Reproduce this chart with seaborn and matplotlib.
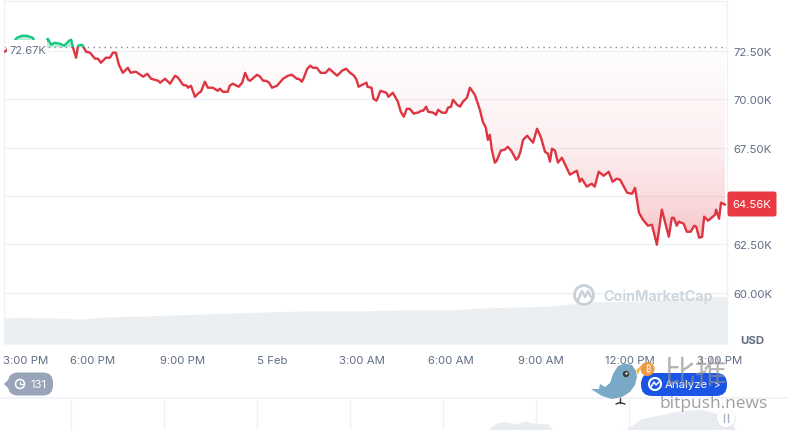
import numpy as np
import pandas as pd
import matplotlib
matplotlib.use("Agg")
import matplotlib.pyplot as plt
import seaborn as sns
from matplotlib.patches import Circle, FancyBboxPatch, Polygon, Rectangle
from matplotlib.path import Path
from matplotlib.transforms import ScaledTranslation
from matplotlib.colors import LinearSegmentedColormap

# minutes since 3:00 PM, price in thousands of USD
minutes = [3, 13, 27, 37, 47, 59, 65, 77, 89, 96,
           102, 114, 122, 132, 136, 140, 146, 150, 158, 162,
           166, 174, 184, 190, 196, 206, 214, 220, 226, 232,
           240, 250, 256, 266, 281, 289, 297, 311, 315, 325,
           335, 345, 351, 361, 369, 371, 377, 385, 393, 397,
           405, 411, 421, 431, 435, 441, 451, 455, 461, 473,
           480, 486, 492, 496, 510, 516, 522, 528, 534, 540,
           550, 562, 572, 580, 590, 594, 600, 604, 611, 617,
           622, 630, 638, 648, 655, 671, 681, 689, 697, 705,
           710, 714, 726, 730, 732, 740, 744, 750, 752, 758,
           770, 774, 783, 793, 799, 805, 811, 817, 825, 831,
           834, 840, 844, 850, 854, 864, 870, 874, 882, 890,
           894, 900, 904, 912, 918, 924, 932, 938, 948, 958,
           964, 970, 974, 978, 982, 988, 992, 1000, 1008, 1014,
           1021, 1031, 1035, 1039, 1045, 1053, 1065, 1073, 1081, 1089,
           1095, 1099, 1103, 1109, 1115, 1123, 1139, 1153, 1159, 1163,
           1173, 1183, 1189, 1197, 1207, 1217, 1225, 1233, 1240, 1254,
           1264, 1270, 1278, 1286, 1296, 1304, 1314, 1324, 1338, 1344,
           1348, 1354, 1358, 1368, 1374, 1382, 1389, 1393, 1399, 1405,
           1409, 1417, 1431, 1433, 1439, 1443, 1451]
price = [72.45, 72.70, 73.17, 73.27, 73.27, 73.17, 72.76, 72.55, 73.12, 72.81,
         72.91, 72.86, 72.76, 73.02, 73.07, 72.65, 72.14, 72.76, 72.81, 72.65,
         72.45, 72.40, 72.09, 72.09, 71.88, 72.14, 72.14, 72.40, 72.40, 71.78,
         71.36, 71.62, 71.36, 71.42, 71.16, 71.31, 71.05, 70.95, 70.85, 71.05,
         70.80, 71.21, 71.11, 70.74, 70.69, 70.59, 70.69, 70.12, 70.33, 70.38,
         70.90, 70.59, 70.59, 70.43, 70.54, 70.38, 70.38, 70.69, 70.80, 70.64,
         70.85, 71.36, 71.00, 70.95, 71.26, 71.16, 70.95, 70.95, 70.85, 70.59,
         70.69, 71.05, 71.21, 71.26, 71.05, 71.05, 70.90, 71.11, 71.57, 71.73,
         71.62, 71.62, 71.36, 71.36, 71.57, 71.21, 71.47, 71.57, 71.36, 71.21,
         71.00, 70.64, 70.80, 70.85, 70.64, 70.59, 70.02, 69.92, 70.02, 70.43,
         70.33, 70.12, 70.33, 69.87, 69.35, 69.09, 69.50, 69.50, 69.25, 69.30,
         69.30, 69.40, 69.40, 69.61, 69.35, 69.30, 69.19, 69.45, 69.30, 69.30,
         69.56, 69.61, 69.97, 69.71, 69.61, 69.87, 70.07, 70.59, 70.22, 69.45,
         68.83, 68.52, 67.90, 68.16, 67.39, 66.72, 66.82, 67.34, 67.39, 67.54,
         67.34, 66.87, 66.97, 67.23, 67.90, 68.11, 67.75, 68.47, 68.01, 67.28,
         67.18, 66.77, 67.44, 67.34, 66.72, 66.97, 66.10, 66.30, 65.73, 65.89,
         65.48, 65.63, 65.48, 66.25, 66.04, 66.25, 65.73, 65.89, 65.84, 65.17,
         65.11, 65.42, 64.13, 63.77, 63.46, 63.51, 62.48, 64.29, 62.89, 63.87,
         63.87, 63.46, 63.67, 63.56, 63.15, 63.15, 63.46, 63.41, 62.84, 62.89,
         63.93, 63.72, 64.03, 64.29, 63.82, 64.65, 64.55]
baseline = 72.67

vol_minutes = [0, 40, 78, 100, 160, 200, 280, 400, 520, 600, 700, 800, 900, 960, 1040, 1100, 1180, 1280, 1340, 1420, 1440, 1455]
volume = [26, 27, 26, 26, 25, 27, 28, 30, 32, 33, 33, 34, 34, 36, 37, 38, 42, 43, 45, 47, 48, 47]

nav_days = [4.48, 4.56, 4.61, 4.69, 4.77, 4.88, 4.96, 5.13, 5.18, 5.85, 5.98, 6.12, 6.28, 6.47, 6.76, 7.05, 7.15]
nav_volume = [0, 6, 8, 8, 6, 9, 7, 6, 0, 0, 1, 11, 14, 18, 21, 14, 0]

y_ticks = [60, 62.5, 65, 67.5, 70, 72.5]
y_labels = ["60.00K", "62.50K", "", "67.50K", "70.00K", "72.50K"]
x_ticks = [0, 180, 360, 540, 720, 900, 1080, 1260, 1440]
x_labels = ["3:00 PM", "6:00 PM", "9:00 PM", "5 Feb", "3:00 AM", "6:00 AM", "9:00 AM", "12:00 PM", "3:00 PM"]

W, H = 788, 431
RED = "#de3542"
GREEN = "#16c784"
GRID = "#eff2f5"
TXT = "#616e85"

sns.set_theme(style="white")
plt.rcParams["font.family"] = ["Inter", "Noto Sans CJK SC", "DejaVu Sans"]

df = pd.DataFrame({"minutes": minutes, "price": price})
vol_df = pd.DataFrame({"minutes": vol_minutes, "volume": volume})

fig = plt.figure(figsize=(W / 100, H / 100), dpi=100, facecolor="white")
ax = fig.add_axes([3.5 / W, 1 - 345 / H, 723.5 / W, 343 / H])
ax.set_zorder(2)
ax.patch.set_alpha(0)

# volume behind the price line
ax_vol = fig.add_axes(ax.get_position(), zorder=1)
ax_vol.fill_between(vol_df["minutes"], vol_df["volume"], color="#eceff2", lw=0)
ax_vol.set_xlim(0, 1455)
ax_vol.set_ylim(0, 343)
ax_vol.axis("off")

# red gradient below the baseline, green tint above
r, g, b = 0.886, 0.227, 0.275
cmap = LinearSegmentedColormap.from_list("fade", [(0, (r, g, b, 0.01)), (0.5, (r, g, b, 0.08)),
                                                  (0.78, (r, g, b, 0.19)), (1, (r, g, b, 0.32))])
grad = ax.imshow(np.linspace(0, 1, 256).reshape(-1, 1), extent=[0, 1455, 62.4, baseline], origin="upper",
                 aspect="auto", cmap=cmap, zorder=1)
poly = ax.fill_between(df["minutes"], df["price"], baseline, where=df["price"] <= baseline, interpolate=True,
                       color="none", lw=0)
grad.set_clip_path(Path.make_compound_path(*poly.get_paths()), transform=ax.transData)
ax.fill_between(df["minutes"], df["price"], baseline, where=df["price"] >= baseline, interpolate=True,
                color=GREEN, alpha=0.3, lw=0, zorder=1)

ax.axhline(baseline, color="#808a9d", lw=1, ls=(0, (1, 3)), zorder=2)

sns.lineplot(data=df, x="minutes", y="price", color=RED, lw=1.7, ax=ax, zorder=3)
ax.lines[-1].set_clip_path(Rectangle((0, 50), 1455, baseline - 50, transform=ax.transData))
sns.lineplot(data=df, x="minutes", y="price", color=GREEN, lw=1.7, ax=ax, zorder=3)
ax.lines[-1].set_clip_path(Rectangle((0, baseline), 1455, 10, transform=ax.transData))

ax.set_xlim(0, 1455)
ax.set_ylim(57.35, 75.07)
ax.set_xlabel("")
ax.set_ylabel("")
ax.yaxis.tick_right()
ax.set_yticks(y_ticks, y_labels, fontsize=8.2, color=TXT)
ax.set_xticks(x_ticks, x_labels, fontsize=8.2, color=TXT)
ax.tick_params(axis="both", length=0)
ax.tick_params(axis="x", pad=8)
ax.tick_params(axis="y", pad=4.5)
first = ax.xaxis.get_majorticklabels()[0]
first.set_transform(first.get_transform() + ScaledTranslation(22 / 100, 0, fig.dpi_scale_trans))
ax.grid(axis="y", color=GRID, lw=1)
ax.set_axisbelow(True)
for side in ["left", "right", "top"]:
    ax.spines[side].set_color(GRID)
    ax.spines[side].set_linewidth(1)
ax.spines["bottom"].set_visible(False)

# navigator strip at the bottom
ax_nav = fig.add_axes([0, 0, 1, 32 / H], zorder=1)
ax_nav.fill_between(nav_days, nav_volume, color="#e9ecf0", lw=0)
ax_nav.set_xlim(-71 / 93, 717 / 93)
ax_nav.set_ylim(0, 32)
ax_nav.set_xticks(range(0, 8))
ax_nav.set_yticks([])
ax_nav.tick_params(length=0, labelbottom=False)
ax_nav.grid(axis="x", color=GRID, lw=1)
ax_nav.set_axisbelow(True)
for side in ["left", "right", "bottom"]:
    ax_nav.spines[side].set_visible(False)
ax_nav.spines["top"].set_color(GRID)

# overlay in pixel coordinates for labels, buttons and watermarks
ov = fig.add_axes([0, 0, 1, 1], zorder=5)
ov.set_xlim(0, W)
ov.set_ylim(H, 0)
ov.axis("off")

ov.add_patch(Rectangle((7, 41), 40, 16, fc="white", ec="none"))
ov.text(9.5, 50.5, "72.67K", fontsize=8, color=TXT, va="center", ha="left")

ov.add_patch(FancyBboxPatch((727.5, 192.5), 49, 25, boxstyle="round,pad=0,rounding_size=2.5", fc="#ea3943", ec="none"))
ov.text(752, 205, "64.56K", fontsize=8.2, color="white", ha="center", va="center")
ov.text(752.5, 341.5, "USD", fontsize=8.2, color=TXT, ha="center", va="center", fontweight="bold")

# CoinMarketCap watermark
ov.add_patch(Circle((584, 296), 9.5, fc="none", ec="#c8d1da", lw=2, zorder=6))
ov.plot([578, 582, 585, 588, 591], [301, 292, 298, 292, 298], color="#c8d1da", lw=1.8, zorder=6)
ov.text(603, 296.5, "CoinMarketCap", fontsize=10.3, fontweight="bold", color="#ced6de", va="center", ha="left", zorder=6,
        family=["Inter"])

# history badge
ov.add_patch(Polygon([(4, 385), (10, 379), (10, 391)], fc="#98a4b8", ec="none"))
ov.add_patch(FancyBboxPatch((8, 373.5), 45, 23, boxstyle="round,pad=0,rounding_size=10", fc="#98a4b8", ec="none"))
ov.add_patch(Circle((20, 385), 4.5, fc="none", ec="white", lw=1.1))
ov.plot([20, 20, 23], [382.5, 385.5, 385.5], color="white", lw=0.9)
ov.text(39, 385.5, "131", fontsize=8.2, color="white", ha="center", va="center")

# analyze pill
ov.add_patch(FancyBboxPatch((641, 374), 86, 23, boxstyle="round,pad=0,rounding_size=11", fc="#1a55e6", ec="none"))
ov.add_patch(Circle((655, 385), 6, fc="none", ec="white", lw=1.5))
ov.plot([651, 654, 656, 659], [388, 383, 386, 383], color="white", lw=1.1)
ov.text(665, 385.5, "Analyze", fontsize=8.2, color="white", va="center", ha="left")
ov.text(714, 385.5, ">", fontsize=7, color="white", va="center", ha="left")

# pause handle
ov.add_patch(Circle((726, 420), 10, fc="#e3e6ea", ec="none", alpha=0.7))
ov.add_patch(Circle((726, 419), 9, fc="white", ec="none"))
ov.plot([724, 724], [415, 423], color="#a6b0c3", lw=1)
ov.plot([728, 728], [415, 423], color="#a6b0c3", lw=1)

# bird
ov.add_patch(Polygon([(591, 390), (599, 390), (600, 385), (605, 388), (610, 384), (613, 375), (618, 367), (625, 364.5),
                      (632, 366), (636, 372), (637, 378), (635, 386), (630, 393), (622, 398), (612, 400), (602, 397)],
                     fc="#79a9c6", ec="none", zorder=7))
ov.add_patch(Polygon([(636, 371), (642, 366), (638, 376)], fc="#efc24a", ec="none", zorder=7))
ov.add_patch(Circle((626, 375), 3.2, fc="#3a3a3a", ec="none", zorder=8))
ov.add_patch(Circle((626.5, 374.5), 1.2, fc="#dfe6ea", ec="none", zorder=9))
ov.plot([620, 620], [399, 404], color="#333333", lw=1, zorder=7)
ov.plot([616, 620, 625], [405, 403.5, 405], color="#333333", lw=1, zorder=7)
ov.add_patch(Circle((647.5, 370), 7, fc="#ef9a45", ec="none", zorder=7))
ov.text(647.5, 370, "₿", fontsize=6.5, color="white", ha="center", va="center", zorder=8,
        family=["Roboto", "Noto Sans", "Open Sans", "Lato", "Liberation Sans"])

# bitpush watermark
ov.text(695, 374, "比推", fontsize=23, color="#8f8f8f", alpha=0.65, ha="center", va="center", zorder=9,
        family=["Noto Sans CJK SC"], fontweight="light")
ov.text(714, 404, "bitpush.news", fontsize=12.5, color="#8f8f8f", alpha=0.85, ha="center", va="center", zorder=9,
        family=["Open Sans"])

fig.savefig("out.png", dpi=100)
